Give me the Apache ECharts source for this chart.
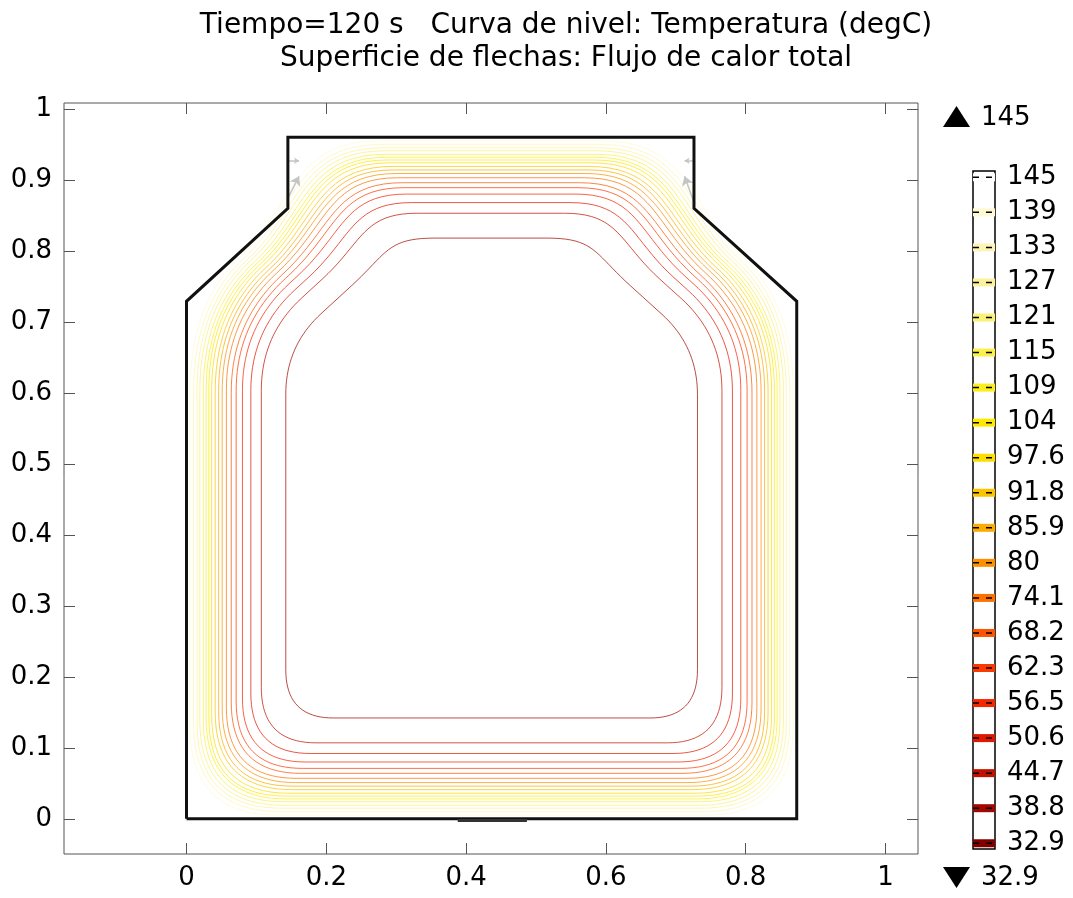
<!DOCTYPE html>
<html><head><meta charset="utf-8">
<script src="https://cdn.jsdelivr.net/npm/echarts@6/dist/echarts.min.js"></script>
<style>html,body{margin:0;padding:0;background:#fff}#chart{width:1073px;height:898px}</style>
</head><body><div id="chart"></div>
<script>
// ---------- data ----------
const titleLines = ['Tiempo=120 s   Curva de nivel: Temperatura (degC)', 'Superficie de flechas: Flujo de calor total'];
const levels = [145, 139, 133, 127, 121, 115, 109, 104, 97.6, 91.8, 85.9, 80, 74.1, 68.2, 62.3, 56.5, 50.6, 44.7, 38.8, 32.9];
const levelColors = ['#ffffff', '#fffad2', '#fdf5b6', '#fcf29c', '#fbf078', '#fbef4c', '#fcee1e', '#fde900', '#fddc00', '#fcc400', '#fcab00', '#fc9000', '#fc7200', '#fc5400', '#fc3a00', '#f52600', '#e01800', '#c01000', '#a00800', '#800000'];
const maxValue = 145;
const minValue = 32.9;
// contour levels shown in the domain, their distance from the hot wall, and corner rounding
const contourLevels = [139, 133, 127, 121, 115, 109, 104, 97.6, 91.8, 85.9, 80, 74.1, 68.2, 62.3, 56.5, 50.6, 44.7, 38.8];
const contourInsets = [0.005, 0.010, 0.015, 0.019, 0.024, 0.028, 0.032, 0.036, 0.041, 0.046, 0.051, 0.057, 0.064, 0.071, 0.080, 0.092, 0.107, 0.142];
const contourRounding = [0.125, 0.125, 0.12, 0.12, 0.115, 0.115, 0.11, 0.11, 0.11, 0.105, 0.105, 0.10, 0.10, 0.095, 0.09, 0.085, 0.078, 0.068];
// domain boundary
const boundaryX = [0, 0, 0.145, 0.145, 0.726, 0.726, 0.873, 0.873];
const boundaryY = [0, 0.729, 0.860, 0.960, 0.960, 0.860, 0.729, 0];
const heaterX = [0.388, 0.487];
const heaterY = [-0.0025, -0.0025];
// heat-flux arrows visible
const arrowStartX = [0.1448, 0.7265, 0.1448, 0.7265];
const arrowStartY = [0.874, 0.867, 0.927, 0.927];
const arrowEndX = [0.161, 0.7125, 0.161, 0.7125];
const arrowEndY = [0.905, 0.905, 0.927, 0.927];
const arrowSizes = [9, 9, 5, 5];
// axes
const xTicks = [0, 0.2, 0.4, 0.6, 0.8, 1];
const yTicks = [0, 0.1, 0.2, 0.3, 0.4, 0.5, 0.6, 0.7, 0.8, 0.9, 1];

// ---------- geometry helpers ----------
function insetPolygon(xs, ys, d) {
  const n = xs.length, lines = [];
  for (let i = 0; i < n; i++) {
    const j = (i + 1) % n;
    let ux = xs[j] - xs[i], uy = ys[j] - ys[i];
    const L = Math.hypot(ux, uy); ux /= L; uy /= L;
    lines.push({px: xs[i] + uy * d, py: ys[i] - ux * d, ux, uy});
  }
  const pts = [];
  for (let i = 0; i < n; i++) {
    const a = lines[(i - 1 + n) % n], b = lines[i];
    const den = a.ux * b.uy - a.uy * b.ux;
    const t = ((b.px - a.px) * b.uy - (b.py - a.py) * b.ux) / den;
    pts.push([a.px + a.ux * t, a.py + a.uy * t]);
  }
  return pts;
}
function dist(a, b) { return Math.hypot(b[0] - a[0], b[1] - a[1]); }
function toward(a, b, len) { const L = dist(a, b); return [a[0] + (b[0] - a[0]) * len / L, a[1] + (b[1] - a[1]) * len / L]; }
function roundedPath(P, r) {
  const n = P.length, out = [], N = 20;
  let i = 0;
  while (i < n) {
    const prev = P[(i - 1 + n) % n], cur = P[i], next = P[(i + 1) % n];
    if (i + 1 < n && dist(cur, next) < 1.2 * r) {
      const nn = P[(i + 2) % n];
      const A = toward(cur, prev, Math.min(r, dist(cur, prev) / 2));
      const B = toward(next, nn, Math.min(r, dist(next, nn) / 2));
      for (let k = 0; k <= N; k++) {
        const s = k / N, a = (1 - s) ** 3, b = 3 * (1 - s) ** 2 * s, c = 3 * (1 - s) * s * s, e = s ** 3;
        out.push([a * A[0] + b * cur[0] + c * next[0] + e * B[0], a * A[1] + b * cur[1] + c * next[1] + e * B[1]]);
      }
      i += 2;
    } else {
      const A = toward(cur, prev, Math.min(r, dist(cur, prev) / 2));
      const B = toward(cur, next, Math.min(r, dist(cur, next) / 2));
      for (let k = 0; k <= N; k++) {
        const s = k / N, a = (1 - s) ** 2, b = 2 * (1 - s) * s, c = s * s;
        out.push([a * A[0] + b * cur[0] + c * B[0], a * A[1] + b * cur[1] + c * B[1]]);
      }
      i += 1;
    }
  }
  out.push(out[0]);
  return out;
}
function colorOf(v) { return levelColors[levels.indexOf(v)]; }

// ---------- series ----------
const series = [];
contourLevels.forEach((lv, k) => {
  series.push({
    type: 'line', xAxisIndex: 0, yAxisIndex: 0, symbol: 'none', silent: true,
    data: roundedPath(insetPolygon(boundaryX, boundaryY, contourInsets[k]), contourRounding[k]),
    lineStyle: {color: colorOf(lv), width: 1, opacity: 0.72}, z: 2
  });
});
const bData = boundaryX.map((x, i) => [x, boundaryY[i]]); bData.push(bData[0]);
series.push({type: 'line', xAxisIndex: 0, yAxisIndex: 0, symbol: 'none', silent: true, data: bData,
  lineStyle: {color: '#111', width: 3, join: 'miter'}, z: 5});
series.push({type: 'line', xAxisIndex: 0, yAxisIndex: 0, symbol: 'none', silent: true,
  data: heaterX.map((x, i) => [x, heaterY[i]]), lineStyle: {color: '#333', width: 3}, z: 6});
series.push({type: 'lines', coordinateSystem: 'cartesian2d', xAxisIndex: 0, yAxisIndex: 0, silent: true, z: 4,
  data: arrowStartX.map((x, i) => ({coords: [[x, arrowStartY[i]], [arrowEndX[i], arrowEndY[i]]], symbolSize: arrowSizes[i]})),
  symbol: ['none', 'arrow'], lineStyle: {color: '#c4c4c4', width: 1.5, opacity: 1}});
// colour legend bands
series.push({
  type: 'custom', xAxisIndex: 2, yAxisIndex: 2, silent: true, clip: false, z: 10,
  data: levels.map((v, i) => [i, v]),
  renderItem: (params, api) => {
    const i = api.value(0);
    const c1 = api.coord([0, i]), c2 = api.coord([1, i]);
    const h = 8;
    return {type: 'group', children: [
      {type: 'rect', shape: {x: c1[0], y: c1[1] - h / 2, width: c2[0] - c1[0], height: h}, style: {fill: levelColors[i]}},
      {type: 'line', shape: {x1: c1[0], y1: c1[1], x2: c2[0], y2: c1[1]}, style: {stroke: '#000', lineWidth: 1.5, lineDash: [6, 7]}}
    ]};
  }
});

const FONT = 'DejaVu Sans';
const tickStyle = {color: '#555', width: 1};
function fmt(v) { return String(v); }
const hiddenLine = {show: false, onZero: false};
const option = {
  animation: false,
  backgroundColor: '#fff',
  title: {text: titleLines.join('\n'), left: 561, top: 4, textAlign: 'center',
    textStyle: {fontFamily: FONT, fontSize: 28, fontWeight: 'normal', color: '#000', lineHeight: 33}},
  grid: [
    {left: 64, top: 103, width: 854, height: 751, show: true, borderColor: '#555', borderWidth: 1, backgroundColor: '#fff'},
    {left: 973, top: 171, width: 22, height: 678, show: true, borderColor: '#000', borderWidth: 1.5, backgroundColor: '#fff'}
  ],
  xAxis: [
    {type: 'value', gridIndex: 0, min: -0.1753, max: 1.0465, axisLine: hiddenLine, splitLine: {show: false},
      axisTick: {show: true, inside: true, length: 11, lineStyle: tickStyle, customValues: xTicks},
      axisLabel: {customValues: xTicks, formatter: fmt, fontFamily: FONT, fontSize: 26, color: '#000', margin: 11}},
    {type: 'value', gridIndex: 0, position: 'top', min: -0.1753, max: 1.0465, axisLine: hiddenLine, splitLine: {show: false},
      axisTick: {show: true, inside: true, length: 11, lineStyle: tickStyle, customValues: xTicks},
      axisLabel: {show: false, customValues: xTicks}},
    {type: 'value', gridIndex: 1, min: 0, max: 1, show: false, axisLine: hiddenLine}
  ],
  yAxis: [
    {type: 'value', gridIndex: 0, min: -0.0496, max: 1.0083, axisLine: hiddenLine, splitLine: {show: false},
      axisTick: {show: true, inside: true, length: 11, lineStyle: tickStyle, customValues: yTicks},
      axisLabel: {customValues: yTicks, formatter: fmt, fontFamily: FONT, fontSize: 26, color: '#000', margin: 12}},
    {type: 'value', gridIndex: 0, position: 'right', min: -0.0496, max: 1.0083, axisLine: hiddenLine, splitLine: {show: false},
      axisTick: {show: true, inside: true, length: 11, lineStyle: tickStyle, customValues: yTicks},
      axisLabel: {show: false, customValues: yTicks}},
    {type: 'value', gridIndex: 1, position: 'right', inverse: true, min: -0.18, max: 19.164,
      axisLine: hiddenLine, axisTick: {show: false}, splitLine: {show: false},
      axisLabel: {customValues: levels.map((v, i) => i), formatter: v => String(levels[Math.round(v)]),
        fontFamily: FONT, fontSize: 26, color: '#000', margin: 12}}
  ],
  graphic: [
    {type: 'polygon', shape: {points: [[943, 127], [970, 127], [956.5, 106]]}, style: {fill: '#000'}},
    {type: 'text', x: 981, y: 118, style: {text: String(maxValue), font: '26px "DejaVu Sans"', fill: '#000', verticalAlign: 'middle'}},
    {type: 'polygon', shape: {points: [[943, 867], [970, 867], [956.5, 888]]}, style: {fill: '#000'}},
    {type: 'text', x: 981, y: 878, style: {text: String(minValue), font: '26px "DejaVu Sans"', fill: '#000', verticalAlign: 'middle'}}
  ],
  series: series
};
const chart = echarts.init(document.getElementById('chart'), null, {renderer: 'canvas'});
chart.setOption(option);
</script>
</body></html>
